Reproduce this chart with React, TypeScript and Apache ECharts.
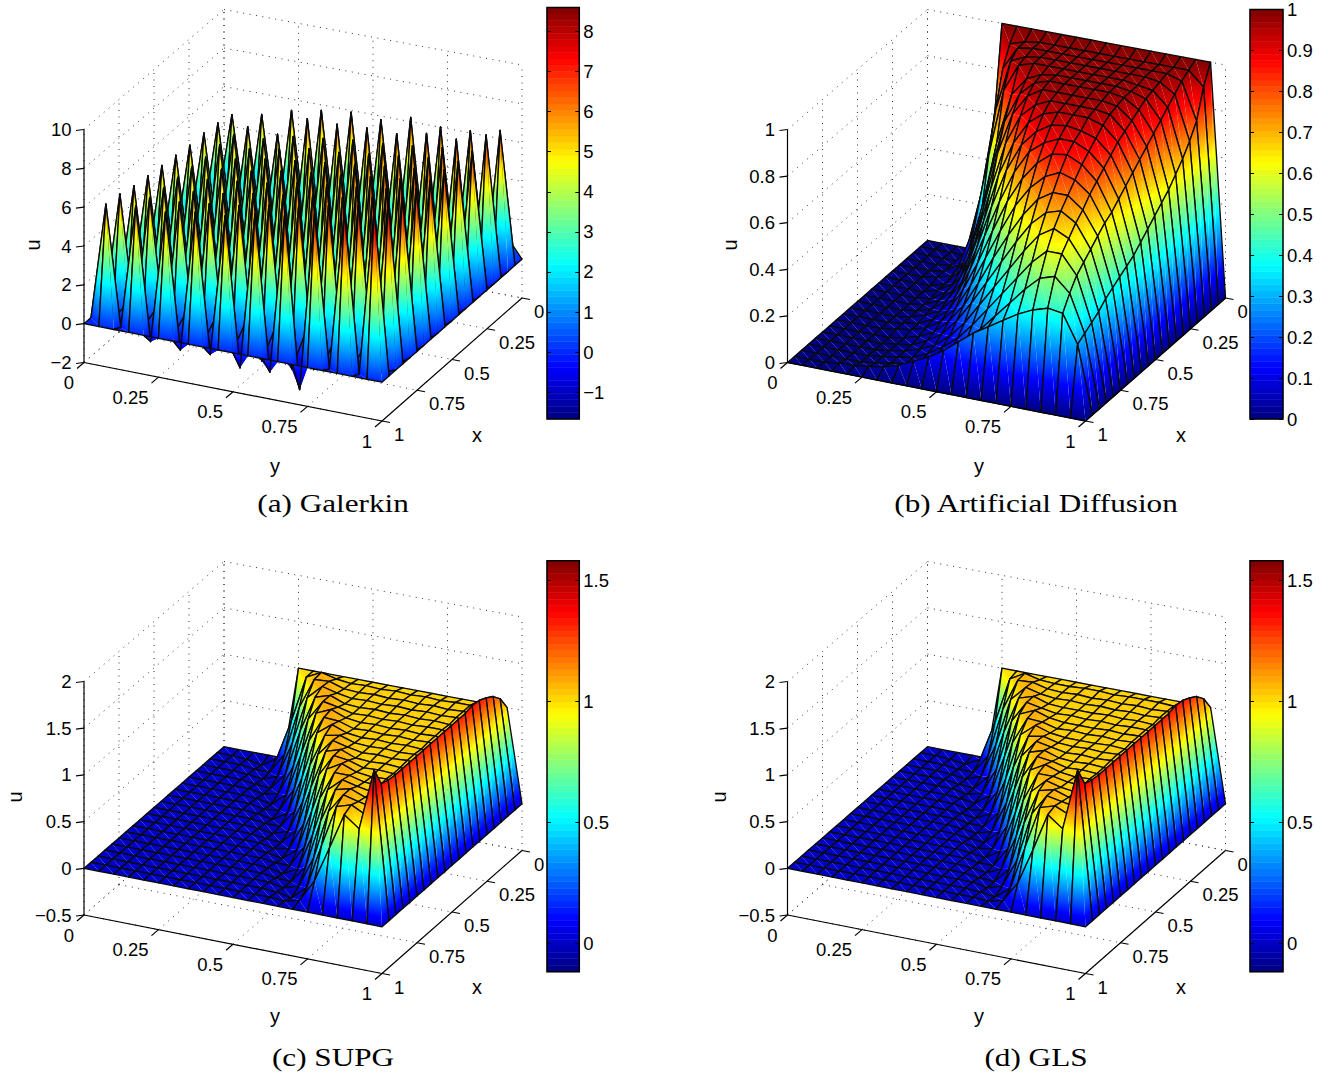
import React, { useEffect, useRef } from "react";
import * as echarts from "echarts";

// All surface values are in hundredths of u; rows are x = i/20, columns y = j/20.
const galerkinU = [
[0,0,0,0,0,100,100,100,100,100,100,100,100,100,100,100,100,100,100,100,0],
[0,500,-40,530,-50,580,-55,610,-60,630,-60,620,-60,660,-60,640,-60,650,-60,680,0],
[0,-60,90,-70,100,-70,100,-70,100,-70,105,-70,105,-70,110,-70,110,-75,110,-80,0],
[0,520,-45,530,-55,520,-60,630,-65,630,-65,640,-65,640,-65,670,-65,670,-65,720,0],
[0,-50,90,-65,100,-70,105,-70,105,-70,110,-70,110,-70,115,-70,115,-75,115,-75,0],
[0,530,-40,550,-55,560,-60,600,-65,620,-70,640,-70,650,-70,670,-70,690,-70,700,0],
[0,-45,90,-60,100,-70,105,-70,110,-75,110,-75,115,-75,120,-75,120,-75,120,-75,0],
[0,530,-40,560,-55,570,-65,600,-70,630,-70,640,-75,660,-75,680,-75,700,-70,710,0],
[0,-40,90,-60,100,-70,110,-70,110,-75,115,-75,120,-75,120,-75,125,-75,125,-70,0],
[0,540,-35,560,-55,580,-65,610,-70,630,-75,650,-75,670,-80,690,-75,710,-70,730,0],
[0,-40,90,-60,100,-70,110,-75,115,-75,120,-80,120,-80,125,-80,125,-75,125,-70,0],
[0,550,-35,570,-55,590,-65,610,-75,640,-80,660,-85,680,-85,700,-80,720,-70,740,0],
[0,-35,90,-55,100,-70,110,-75,115,-80,120,-85,125,-85,125,-85,130,-75,130,-70,0],
[0,560,-30,580,-55,600,-65,620,-75,640,-85,670,-90,690,-90,710,-80,730,-70,760,0],
[0,-30,85,-50,100,-65,110,-75,115,-85,120,-90,125,-90,130,-85,130,-75,125,-70,0],
[0,570,-30,590,-55,600,-70,620,-75,650,-90,670,-100,700,-100,720,-80,750,-60,780,0],
[0,-30,80,-50,95,-65,105,-75,115,-85,120,-95,125,-100,130,-80,125,-60,120,-60,0],
[0,590,-25,600,-55,610,-70,630,-70,650,-90,680,-100,710,-120,740,-70,770,-40,810,0],
[0,-20,70,-40,85,-55,95,-65,105,-75,110,-90,115,-100,115,-70,110,-40,100,-30,0],
[0,600,-20,620,-63,620,-77,650,-70,660,-108,700,-100,730,-160,760,-25,800,-20,840,0],
[0,0,0,0,0,0,0,0,0,0,0,0,0,0,0,0,0,0,0,0,0],
];
const diffusionU = [
[0,0,0,0,0,100,100,100,100,100,100,100,100,100,100,100,100,100,100,100,0],
[0,0,0,0,10,65,95,97,98,98,98,98,98,98,98,98,98,98,98,92,0],
[0,0,0,0,9,46,87,97,98,98,98,98,98,98,98,98,98,98,96,80,0],
[0,0,0,1,8,34,72,94,97,98,98,98,98,98,98,98,98,97,93,74,0],
[0,0,0,1,5,22,55,84,96,98,98,98,98,98,98,98,97,96,90,69,0],
[0,0,0,1,3,12,34,64,86,94,97,98,98,98,98,98,97,95,87,65,0],
[0,0,0,0,2,9,26,52,77,90,96,98,98,98,98,98,97,93,84,61,0],
[0,0,0,0,2,6,18,40,66,84,93,97,97,97,97,97,96,91,81,58,0],
[0,0,0,0,1,5,13,30,53,74,87,93,96,96,96,96,95,89,78,55,0],
[0,0,0,0,1,4,10,23,42,63,78,88,93,95,95,95,93,87,75,52,0],
[0,0,0,0,1,3,8,17,33,52,69,81,88,92,93,92,90,84,72,49,0],
[0,0,0,0,1,3,6,13,26,42,58,72,82,87,90,90,87,81,69,46,0],
[0,0,0,0,1,2,5,10,20,33,48,62,73,81,86,87,84,78,66,44,0],
[0,0,0,0,1,2,4,8,15,26,39,52,64,73,79,82,80,75,64,42,0],
[0,0,0,0,0,1,3,6,12,20,31,43,54,64,72,76,76,71,61,40,0],
[0,0,0,0,0,1,2,5,9,16,25,35,45,55,64,70,72,68,58,38,0],
[0,0,0,0,0,1,2,4,7,12,19,28,37,46,55,63,67,64,55,35,0],
[0,0,0,0,0,1,2,3,6,10,15,22,30,38,46,54,60,60,52,33,0],
[0,0,0,0,0,1,2,3,5,8,12,17,24,31,38,45,51,53,47,31,0],
[0,0,0,1,1,2,3,5,8,11,15,20,25,29,33,37,40,42,41,29,0],
[0,0,0,0,0,0,0,0,0,0,0,0,0,0,0,0,0,0,0,0,0],
];
const supgU = [
[0,0,0,0,0,100,100,100,100,100,100,100,100,100,100,100,100,100,100,100,0],
[0,0,-1,-4,6,50,100,108,104,102,103,102,103,102,103,102,103,103,100,116,0],
[0,0,0,-2,-2,20,74,107,108,103,102,103,102,103,102,103,102,103,100,125,0],
[0,0,0,-1,-3,3,42,94,109,105,102,103,102,103,102,103,102,103,101,130,0],
[0,0,0,0,-2,-3,15,65,104,109,103,102,103,102,103,102,103,102,100,134,0],
[0,0,0,0,0,-3,1,33,87,109,106,102,103,102,103,102,103,103,100,135,0],
[0,0,0,0,0,-1,-4,9,56,103,110,104,102,103,102,103,102,103,100,133,0],
[0,0,0,0,0,0,-3,-1,25,80,108,107,102,103,102,103,102,103,100,133,0],
[0,0,0,0,0,0,-1,-4,5,47,98,110,104,102,103,102,103,102,100,133,0],
[0,0,0,0,0,0,0,-2,-2,18,70,105,108,103,102,103,102,103,100,133,0],
[0,0,0,0,0,0,0,-1,-3,2,38,91,109,105,102,103,102,103,100,133,0],
[0,0,0,0,0,0,0,0,-2,-3,13,62,104,109,103,102,103,102,100,133,0],
[0,0,0,0,0,0,0,0,0,-3,0,30,85,109,107,102,103,102,100,133,0],
[0,0,0,0,0,0,0,0,0,-1,-4,8,53,101,110,104,102,103,100,133,0],
[0,0,0,0,0,0,0,0,0,0,-2,-2,22,76,107,107,103,102,100,133,0],
[0,0,0,0,0,0,0,0,0,0,-1,-4,4,44,95,109,105,102,100,133,0],
[0,0,0,0,0,0,0,0,0,0,0,-2,-3,16,68,105,109,103,102,133,0],
[0,0,0,0,0,0,0,0,0,0,0,0,-3,2,35,88,109,105,102,134,0],
[0,0,0,0,0,0,0,0,0,0,0,0,-1,-4,10,58,103,108,100,137,0],
[0,0,0,0,0,0,0,0,0,0,0,0,0,-1,3,27,65,104,92,158,0],
[0,0,0,0,0,0,0,0,0,0,0,0,0,0,0,0,0,0,0,0,0],
];
const glsU = [
[0,0,0,0,0,100,100,100,100,100,100,100,100,100,100,100,100,100,100,100,0],
[0,0,-1,-3,5,48,98,107,103,102,102,103,103,102,103,103,103,102,100,116,0],
[0,0,0,-2,-2,18,72,106,107,103,102,103,102,103,102,103,102,103,100,125,0],
[0,0,0,-1,-3,3,40,92,108,104,102,103,102,103,102,103,102,103,101,130,0],
[0,0,0,0,-2,-3,13,63,103,108,103,102,102,102,103,102,103,102,100,134,0],
[0,0,0,0,0,-3,1,31,85,108,105,102,103,102,103,102,103,103,100,135,0],
[0,0,0,0,0,-1,-3,8,54,102,109,104,102,102,102,103,102,103,100,133,0],
[0,0,0,0,0,0,-3,-1,23,78,107,106,102,103,102,103,102,103,100,133,0],
[0,0,0,0,0,0,-1,-3,5,45,96,109,104,102,102,102,103,102,100,133,0],
[0,0,0,0,0,0,0,-2,-2,16,68,104,107,103,102,103,102,103,100,133,0],
[0,0,0,0,0,0,0,-1,-3,2,36,89,108,105,102,103,102,103,100,133,0],
[0,0,0,0,0,0,0,0,-2,-3,12,60,103,108,103,102,103,102,100,133,0],
[0,0,0,0,0,0,0,0,0,-3,0,28,83,108,106,102,103,102,100,133,0],
[0,0,0,0,0,0,0,0,0,-1,-3,7,51,100,109,104,102,103,100,133,0],
[0,0,0,0,0,0,0,0,0,0,-2,-2,20,74,106,106,103,102,100,133,0],
[0,0,0,0,0,0,0,0,0,0,-1,-3,4,42,93,108,104,102,100,133,0],
[0,0,0,0,0,0,0,0,0,0,0,-2,-3,14,66,104,108,103,102,133,0],
[0,0,0,0,0,0,0,0,0,0,0,0,-3,2,33,86,108,105,102,134,0],
[0,0,0,0,0,0,0,0,0,0,0,0,-1,-3,9,56,102,107,100,137,0],
[0,0,0,0,0,0,0,0,0,0,0,0,0,-1,3,25,63,104,92,158,0],
[0,0,0,0,0,0,0,0,0,0,0,0,0,0,0,0,0,0,0,0,0],
];

const planTicks = [0, 0.25, 0.5, 0.75, 1];
const planTickLabels = ["0", "0.25", "0.5", "0.75", "1"];
const galerkinZTicks = [-2, 0, 2, 4, 6, 8, 10];
const diffusionZTicks = [0, 0.2, 0.4, 0.6, 0.8, 1];
const stabilisedZTicks = [-0.5, 0, 0.5, 1, 1.5, 2];
const galerkinBarTicks = [-1, 0, 1, 2, 3, 4, 5, 6, 7, 8];
const diffusionBarTicks = [0, 0.1, 0.2, 0.3, 0.4, 0.5, 0.6, 0.7, 0.8, 0.9, 1];
const stabilisedBarTicks = [0, 0.5, 1, 1.5];

const DX_X = 140, DY_X = 123, DX_Y = 298, DY_Y = 58.5;
const FONT = '18.5px "Liberation Sans"';

const panels = [
  { title: "(a) Galerkin", u: galerkinU, zr: [-2, 10], zt: galerkinZTicks, cr: [-1.67, 8.6], bt: galerkinBarTicks,
    ox: 84, oy: 362.5, zh: 233, barX: 547, barW: 32.3, barT: 7.5, barB: 419, tx: 333, ty: 503, uP: [33, 245], xP: [477, 435], yP: [275, 466] },
  { title: "(b) Artificial Diffusion", u: diffusionU, zr: [0, 1], zt: diffusionZTicks, cr: [0, 1], bt: diffusionBarTicks,
    ox: 787.5, oy: 362.5, zh: 233, barX: 1250, barW: 33, barT: 8, barB: 419, tx: 1036, ty: 503, uP: [730, 245], xP: [1181, 435], yP: [979, 466] },
  { title: "(c) SUPG", u: supgU, zr: [-0.5, 2], zt: stabilisedZTicks, cr: [-0.117, 1.58], bt: stabilisedBarTicks,
    ox: 84, oy: 915, zh: 233.5, barX: 547, barW: 32.3, barT: 560.7, barB: 971.7, tx: 333, ty: 1057, uP: [15, 797], xP: [477, 987], yP: [275, 1016] },
  { title: "(d) GLS", u: glsU, zr: [-0.5, 2], zt: stabilisedZTicks, cr: [-0.117, 1.58], bt: stabilisedBarTicks,
    ox: 787.5, oy: 915, zh: 233.5, barX: 1250, barW: 33, barT: 560.7, barB: 971.7, tx: 1036, ty: 1057, uP: [719, 797], xP: [1181, 987], yP: [979, 1016] },
];

const ramp = (v: number, a: number, b: number) => Math.max(0, Math.min(1, (v - a) / (b - a)));
function jet(v: number) {
  const r = v < 0.875 ? ramp(v, 0.375, 0.625) : 1 - 0.5 * ramp(v, 0.875, 1);
  const g = v < 0.5 ? ramp(v, 0.125, 0.375) : 1 - ramp(v, 0.625, 0.875);
  const b = v < 0.125 ? 0.5 + 0.5 * ramp(v, 0, 0.125) : 1 - ramp(v, 0.375, 0.625);
  return `rgb(${Math.round(r * 255)},${Math.round(g * 255)},${Math.round(b * 255)})`;
}
const JET_BREAKS = [0.125, 0.375, 0.625, 0.875];

function project(p: any, x: number, y: number, z: number) {
  const zf = (z - p.zr[0]) / (p.zr[1] - p.zr[0]);
  return [(1 - x) * DX_X + y * DX_Y, (1 - x) * DY_X - y * DY_Y + zf * p.zh - (1 - x) * (1 - y) * (1 + 2 * zf)];
}

function triangle(pts: number[][], c: number[]) {
  const [p0, p1, p2] = pts;
  const e1x = p1[0] - p0[0], e1y = p1[1] - p0[1], e2x = p2[0] - p0[0], e2y = p2[1] - p0[1];
  const d1 = c[1] - c[0], d2 = c[2] - c[0];
  const det = e1x * e2y - e1y * e2x;
  const lo = Math.min(c[0], c[1], c[2]), hi = Math.max(c[0], c[1], c[2]);
  let fill: any = jet((c[0] + c[1] + c[2]) / 3);
  if (Math.abs(det) > 1e-6 && hi - lo > 1e-4) {
    const gx = (d1 * e2y - d2 * e1y) / det, gy = (-d1 * e2x + d2 * e1x) / det;
    const g2 = gx * gx + gy * gy;
    const s = pts[c.indexOf(lo)];
    const colorStops = [{ offset: 0, color: jet(lo) }];
    JET_BREAKS.forEach((b) => { if (b > lo && b < hi) colorStops.push({ offset: (b - lo) / (hi - lo), color: jet(b) }); });
    colorStops.push({ offset: 1, color: jet(hi) });
    fill = { type: "linear", global: true, x: s[0], y: s[1], x2: s[0] + (gx / g2) * (hi - lo), y2: s[1] + (gy / g2) * (hi - lo), colorStops };
  }
  return { type: "polygon", silent: true, shape: { points: pts }, style: { fill, stroke: null } };
}

function surfaceSeries(p: any, idx: number) {
  const cells: number[][] = [];
  for (let i = 0; i < 20; i++) for (let j = 0; j < 20; j++) cells.push([i, j]);
  return {
    type: "custom", xAxisIndex: idx, yAxisIndex: idx, silent: true, progressive: 0, clip: false, data: cells,
    renderItem: (_: any, api: any) => {
      const i = api.value(0), j = api.value(1);
      const corner = (a: number, b: number) => {
        const z = p.u[a][b] / 100;
        return { pt: api.coord(project(p, a / 20, b / 20, z)), c: Math.max(0, Math.min(1, (z - p.cr[0]) / (p.cr[1] - p.cr[0]))) };
      };
      const A = corner(i, j), B = corner(i, j + 1), C = corner(i + 1, j + 1), D = corner(i + 1, j);
      return {
        type: "group",
        children: [
          triangle([A.pt, B.pt, C.pt], [A.c, B.c, C.c]),
          triangle([A.pt, C.pt, D.pt], [A.c, C.c, D.c]),
          { type: "polygon", silent: true, shape: { points: [A.pt, B.pt, C.pt, D.pt] }, style: { fill: "none", stroke: "#0a0a0a", lineWidth: 1.35, lineJoin: "round" } },
        ],
      };
    },
  };
}

function seg(api: any, p: any, a: number[], b: number[], style: any) {
  const s = api.coord(project(p, a[0], a[1], a[2])), e = api.coord(project(p, b[0], b[1], b[2]));
  return { type: "line", silent: true, shape: { x1: s[0], y1: s[1], x2: e[0], y2: e[1] }, style };
}

function gridSeries(p: any, idx: number) {
  return {
    type: "custom", xAxisIndex: idx, yAxisIndex: idx, silent: true, clip: false, data: [[0]],
    renderItem: (_: any, api: any) => {
      const st = { stroke: "#333", lineWidth: 1, lineDash: [1, 5.5], fill: "none" };
      const [lo, hi] = p.zr;
      const out: any[] = [];
      planTicks.forEach((t) => {
        out.push(seg(api, p, [1, t, lo], [0, t, lo], st));
        out.push(seg(api, p, [t, 0, lo], [t, 1, lo], st));
        out.push(seg(api, p, [t, 0, lo], [t, 0, hi], st));
        out.push(seg(api, p, [0, t, lo], [0, t, hi], st));
      });
      p.zt.forEach((z: number) => {
        out.push(seg(api, p, [1, 0, z], [0, 0, z], st));
        out.push(seg(api, p, [0, 0, z], [0, 1, z], st));
      });
      return { type: "group", children: out };
    },
  };
}

const text = (x: number, y: number, s: string, align: string, extra: any = {}) => ({
  type: "text", silent: true, x, y, ...extra,
  style: { text: s, fill: "#000", font: FONT, textAlign: align, textVerticalAlign: "middle" },
});

function axesSeries(p: any, idx: number) {
  return {
    type: "custom", xAxisIndex: idx, yAxisIndex: idx, silent: true, clip: false, data: [[0]],
    renderItem: (_: any, api: any) => {
      const st = { stroke: "#000", lineWidth: 1.2, fill: "none" };
      const [lo, hi] = p.zr;
      const out: any[] = [
        seg(api, p, [1, 0, lo], [1, 0, hi], st),
        seg(api, p, [1, 0, lo], [1, 1, lo], st),
        seg(api, p, [1, 1, lo], [0, 1, lo], st),
      ];
      planTicks.forEach((t, k) => {
        const a = api.coord(project(p, 1, t, lo));
        out.push({ type: "line", silent: true, shape: { x1: a[0], y1: a[1], x2: a[0] - 7, y2: a[1] + 6 }, style: st });
        out.push(text(a[0] - 10, a[1] + 20, planTickLabels[k], "right"));
        const b = api.coord(project(p, t, 1, lo));
        out.push({ type: "line", silent: true, shape: { x1: b[0], y1: b[1], x2: b[0] + 8, y2: b[1] + 1.5 }, style: st });
        out.push(text(b[0] + 12, b[1] + 13.5, planTickLabels[k], "left"));
      });
      p.zt.forEach((z: number) => {
        const a = api.coord(project(p, 1, 0, z));
        out.push({ type: "line", silent: true, shape: { x1: a[0], y1: a[1], x2: a[0] - 8, y2: a[1] + 1 }, style: st });
        out.push(text(a[0] - 12.5, a[1], String(z).replace("-", "\u2212"), "right"));
      });
      return { type: "group", children: out };
    },
  };
}

function barSeries(p: any, idx: number) {
  const levels: number[] = [];
  for (let k = 0; k < 64; k++) levels.push(k);
  return {
    type: "custom", xAxisIndex: 4 + idx, yAxisIndex: 4 + idx * 2, silent: true, clip: false, progressive: 0,
    data: [[0]],
    renderItem: (_: any, api: any) => {
      const [lo, hi] = p.cr;
      const children: any[] = levels.map((k) => {
        const a = api.coord([0, lo + ((hi - lo) * k) / 64]), b = api.coord([1, lo + ((hi - lo) * (k + 1)) / 64]);
        const c = jet((k + 0.5) / 64);
        return { type: "rect", silent: true, shape: { x: a[0], y: b[1], width: b[0] - a[0], height: a[1] - b[1] }, style: { fill: c, stroke: c, lineWidth: 0.5 } };
      });
      const a = api.coord([0, lo]), b = api.coord([1, hi]);
      children.push({ type: "rect", silent: true, shape: { x: a[0], y: b[1], width: b[0] - a[0], height: a[1] - b[1] }, style: { fill: "none", stroke: "#000", lineWidth: 1.5 } });
      return { type: "group", children };
    },
  };
}

export default function App() {
  const ref = useRef<HTMLDivElement>(null);
  useEffect(() => {
    const chart = echarts.init(ref.current!, null, { renderer: "svg" });
    const grid: any[] = [], xAxis: any[] = [], yAxis: any[] = [], series: any[] = [], graphic: any[] = [];
    panels.forEach((p) => {
      grid.push({ left: p.ox, top: p.oy - DY_X - p.zh, width: DX_X + DX_Y, height: DY_X + DY_Y + p.zh });
    });
    panels.forEach((p, idx) => {
      xAxis.push({ type: "value", gridIndex: idx, min: 0, max: DX_X + DX_Y, show: false });
      yAxis.push({ type: "value", gridIndex: idx, min: -DY_Y, max: DY_X + p.zh, show: false });
    });
    panels.forEach((p, idx) => {
      grid.push({ left: p.barX, top: p.barT, width: p.barW, height: p.barB - p.barT });
      xAxis.push({ type: "value", gridIndex: 4 + idx, min: 0, max: 1, show: false });
      const common = { type: "value", gridIndex: 4 + idx, min: p.cr[0], max: p.cr[1], z: 5, splitLine: { show: false }, axisLine: { show: false, onZero: false } };
      yAxis.push({ ...common, position: "left", axisLabel: { show: false }, axisTick: { show: true, inside: true, length: 4, customValues: p.bt, lineStyle: { color: "#000" } } });
      yAxis.push({
        ...common, position: "right",
        axisTick: { show: true, inside: true, length: 4, customValues: p.bt, lineStyle: { color: "#000" } },
        axisLabel: { show: true, customValues: p.bt, color: "#000", fontFamily: "Liberation Sans", fontSize: 18.5, margin: 4, formatter: (v: number) => String(v).replace("-", "\u2212") },
      });
    });
    panels.forEach((p, idx) => {
      series.push(gridSeries(p, idx), surfaceSeries(p, idx), axesSeries(p, idx), barSeries(p, idx));
      graphic.push({ type: "text", x: p.tx, y: p.ty, scaleX: 1.2, silent: true, style: { text: p.title, fill: "#000", font: '26px "Liberation Serif"', textAlign: "center", textVerticalAlign: "middle" } });
      [[p.uP, "u", true], [p.xP, "x", false], [p.yP, "y", false]].forEach(([pos, s, rot]: any) => {
        graphic.push({ type: "text", x: pos[0], y: pos[1], rotation: rot ? Math.PI / 2 : 0, silent: true, style: { text: s, fill: "#000", font: '20px "Liberation Sans"', textAlign: "center", textVerticalAlign: "middle" } });
      });
    });
    chart.setOption({ animation: false, backgroundColor: "#fff", grid, xAxis, yAxis, series, graphic });
    return () => chart.dispose();
  }, []);
  return <div ref={ref} style={{ position: "absolute", left: 0, top: 0, width: 1328, height: 1077 }} />;
}
